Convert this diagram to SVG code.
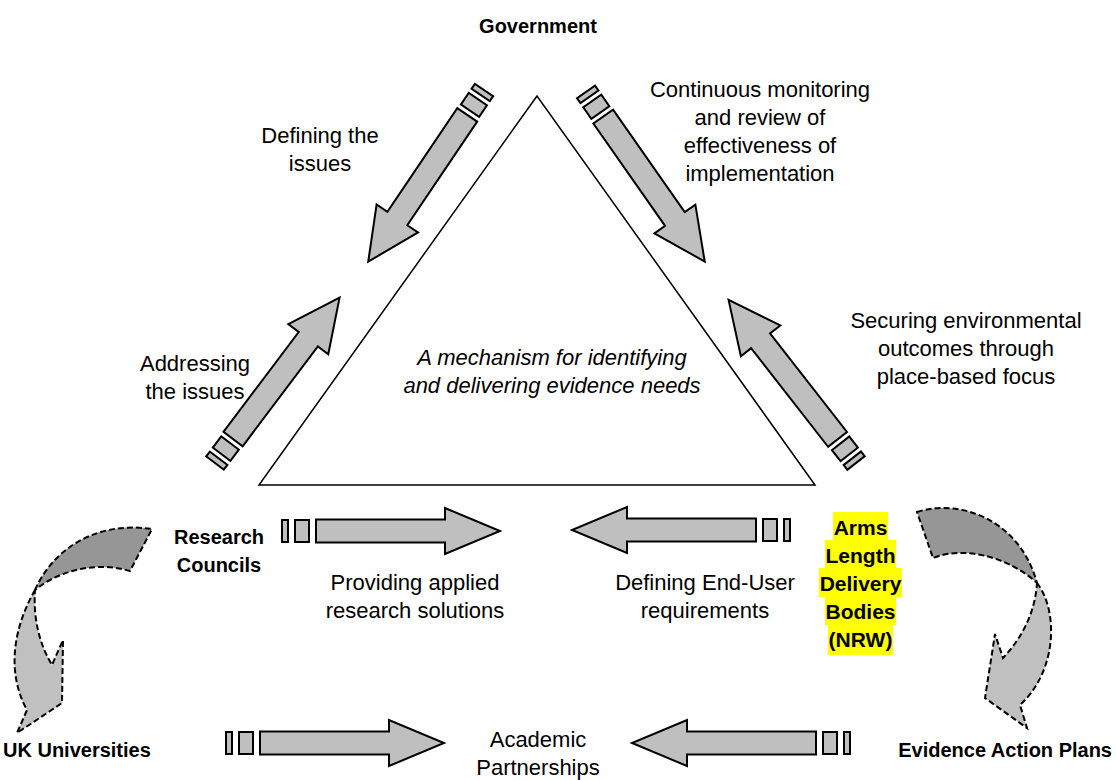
<svg xmlns="http://www.w3.org/2000/svg" xmlns:xlink="http://www.w3.org/1999/xlink" width="1116" height="780" viewBox="0 0 1116 780">
<style>
.t{font-family:"Liberation Sans",Arial,sans-serif;font-size:22px;fill:#000;text-anchor:middle}
.i{font-style:italic}
.b{font-weight:bold;font-size:20px}
.bn{font-weight:bold;font-size:21px}
.arr rect,.arr path{fill:#BFBFBF;stroke:#000;stroke-width:2;stroke-linejoin:miter}
.cd{fill:#969696;stroke:#000;stroke-width:2;stroke-dasharray:6 3}
.cl{fill:#C0C0C0;stroke:#000;stroke-width:2;stroke-dasharray:6 3}
.hl{fill:#FFFF00}
</style>
<defs>
<g id="harr" class="arr">
<rect x="0" y="-11" width="6" height="22"/>
<rect x="13" y="-11" width="14" height="22"/>
<path d="M34,-11.5 H163 V-23 L218,0 L163,23 V11.5 H34 Z"/>
</g>
<g id="darr" class="arr">
<rect x="0" y="-11" width="6" height="22"/>
<rect x="11" y="-11" width="14" height="22"/>
<path d="M30,-12 H155 V-25 L207,0 L155,25 V12 H30 Z"/>
</g>
</defs>
<rect width="1116" height="780" fill="#fff"/>

<g id="mechanism">
<polygon points="537,96 259,485 815,485" fill="#fff" stroke="#000" stroke-width="1.5"/>
<text class="t i" x="552" y="365">A mechanism for identifying</text>
<text class="t i" x="552" y="393">and delivering evidence needs</text>
</g>

<g id="government"><text class="t b" x="538" y="33">Government</text></g>

<g id="research-councils">
<text class="t b" x="219" y="544">Research</text>
<text class="t b" x="219" y="572">Councils</text>
</g>

<g id="nrw">
<rect class="hl" x="833" y="512" width="55" height="29"/>
<rect class="hl" x="825" y="540" width="71" height="29"/>
<rect class="hl" x="819" y="568" width="83" height="29"/>
<rect class="hl" x="825" y="596" width="71" height="29"/>
<rect class="hl" x="828" y="624" width="65" height="31"/>
<text class="t bn" x="860.5" y="535">Arms</text>
<text class="t bn" x="860.5" y="563">Length</text>
<text class="t bn" x="860.5" y="591">Delivery</text>
<text class="t bn" x="860.5" y="619">Bodies</text>
<text class="t bn" x="860.5" y="647">(NRW)</text>
</g>

<g id="uk-universities"><text class="t b" x="3" y="757" style="text-anchor:start">UK Universities</text></g>
<g id="evidence-action-plans"><text class="t b" x="1112" y="757" style="text-anchor:end">Evidence Action Plans</text></g>
<g id="academic-partnerships">
<text class="t" x="538" y="747">Academic</text>
<text class="t" x="538" y="775">Partnerships</text>
</g>

<g id="connectors">
<use xlink:href="#darr" href="#darr" transform="translate(484,90) rotate(124)"/>
<use xlink:href="#darr" href="#darr" transform="translate(586,92) rotate(55)"/>
<use xlink:href="#darr" href="#darr" transform="translate(215,463) rotate(-53)"/>
<use xlink:href="#darr" href="#darr" transform="translate(856,463) rotate(-128)"/>
<use xlink:href="#harr" href="#harr" transform="translate(282,531)"/>
<use xlink:href="#harr" href="#harr" transform="translate(790,530) rotate(180)"/>
<use xlink:href="#harr" href="#harr" transform="translate(226,743)"/>
<use xlink:href="#harr" href="#harr" transform="translate(850,743) rotate(180)"/>
<path class="cd" d="M35,590 C50,555 90,520 152,529 L130,571 C100,562 62,568 35,590 Z"/>
<path class="cl" d="M35,590 C15,625 5,670 27,710 L17,733 L62,703 L63,640 L52,665 C40,645 33,620 35,590 Z"/>
<path class="cd" d="M917,512 C960,498 1020,520 1037,583 C1010,558 965,545 933,558 Z"/>
<path class="cl" d="M1037,583 C1058,610 1058,670 1020,705 L1027,728 L985,698 L995,634 L1003,658 C1020,640 1035,615 1037,583 Z"/>
</g>

<g id="labels">
<text class="t" x="320" y="143">Defining the</text>
<text class="t" x="320" y="171">issues</text>
<text class="t" x="760" y="97">Continuous monitoring</text>
<text class="t" x="760" y="125">and review of</text>
<text class="t" x="760" y="153">effectiveness of</text>
<text class="t" x="760" y="181">implementation</text>
<text class="t" x="195" y="371">Addressing</text>
<text class="t" x="195" y="399">the issues</text>
<text class="t" x="966" y="328">Securing environmental</text>
<text class="t" x="966" y="356">outcomes through</text>
<text class="t" x="966" y="384">place-based focus</text>
<text class="t" x="415" y="590">Providing applied</text>
<text class="t" x="415" y="618">research solutions</text>
<text class="t" x="705" y="590">Defining End-User</text>
<text class="t" x="705" y="618">requirements</text>
</g>
</svg>
